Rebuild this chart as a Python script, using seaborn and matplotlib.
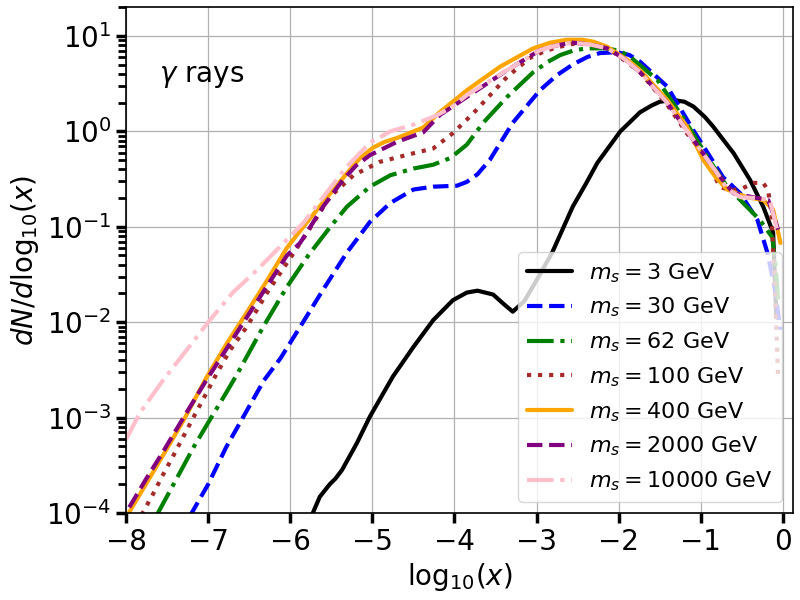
# -*- coding: utf-8 -*-
"""
Gamma-ray spectra dN/dlog10(x) for several scalar masses.
"""

import numpy as np
import pandas as pd
import seaborn as sns
import matplotlib
matplotlib.use("Agg")
import matplotlib.pyplot as plt

# values (x = log10(x), values = log10(dN/dlog10 x))
x_3 = [-5.75, -5.64, -5.52, -5.45, -5.37, -5.19, -5.03, -4.75, -4.50, -4.26, -4.02, -3.85,
       -3.72, -3.53, -3.40, -3.29, -3.15, -3.00, -2.81, -2.56, -2.40, -2.26, -1.98, -1.74,
       -1.60, -1.50, -1.34, -1.20, -1.09, -0.95, -0.85, -0.60, -0.40, -0.24, -0.12, -0.10,
       -0.08]
logy_3 = [-4.05, -3.83, -3.70, -3.64, -3.55, -3.27, -2.99, -2.57, -2.26, -1.98, -1.77, -1.69,
          -1.67, -1.71, -1.81, -1.89, -1.78, -1.56, -1.27, -0.79, -0.55, -0.33, 0.00, 0.20,
          0.27, 0.31, 0.33, 0.31, 0.26, 0.15, 0.05, -0.23, -0.51, -0.79, -1.06, -1.50, -1.95]

x_30 = [-7.22, -7.00, -6.78, -6.57, -6.32, -6.12, -5.88, -5.60, -5.31, -5.03, -4.78, -4.50,
        -4.26, -3.97, -3.85, -3.72, -3.57, -3.29, -2.96, -2.75, -2.56, -2.38, -2.23, -2.02,
        -1.87, -1.74, -1.41, -1.09, -0.73, -0.52, -0.31, -0.19, -0.10, -0.03]
logy_30 = [-4.03, -3.70, -3.31, -2.99, -2.61, -2.38, -2.05, -1.66, -1.27, -0.95, -0.75, -0.61,
           -0.58, -0.57, -0.53, -0.45, -0.30, 0.09, 0.43, 0.59, 0.70, 0.78, 0.82, 0.83,
           0.80, 0.73, 0.47, 0.01, -0.48, -0.65, -0.93, -1.27, -1.65, -2.08]

x_62 = [-7.63, -7.39, -7.17, -6.99, -6.78, -6.65, -6.33, -6.04, -5.78, -5.52, -5.31, -5.03,
        -4.78, -4.50, -4.26, -4.05, -3.85, -3.65, -3.36, -3.04, -2.86, -2.71, -2.54, -2.38,
        -2.14, -1.98, -1.86, -1.53, -1.22, -0.92, -0.68, -0.44, -0.28, -0.13, -0.09, -0.06]
logy_62 = [-4.03, -3.65, -3.30, -3.04, -2.74, -2.55, -2.05, -1.63, -1.30, -1.01, -0.79, -0.58,
           -0.46, -0.39, -0.35, -0.28, -0.14, 0.09, 0.36, 0.62, 0.73, 0.80, 0.85, 0.87,
           0.87, 0.84, 0.78, 0.54, 0.15, -0.27, -0.58, -0.79, -0.93, -1.11, -1.40, -1.77]

x_100 = [-7.81, -7.67, -7.55, -7.43, -7.29, -7.18, -7.05, -6.89, -6.73, -6.53, -6.28, -6.04,
         -5.80, -5.52, -5.23, -4.91, -4.50, -4.26, -4.02, -3.77, -3.36, -3.08, -2.90, -2.75,
         -2.60, -2.47, -2.30, -2.14, -1.74, -1.41, -1.17, -1.01, -0.89, -0.77, -0.64, -0.50,
         -0.35, -0.24, -0.18, -0.14, -0.10, -0.06]
logy_100 = [-4.02, -3.80, -3.60, -3.41, -3.18, -3.00, -2.79, -2.53, -2.29, -2.05, -1.69, -1.38,
            -1.07, -0.69, -0.46, -0.32, -0.23, -0.18, -0.02, 0.19, 0.57, 0.77, 0.84, 0.88,
            0.91, 0.93, 0.92, 0.88, 0.62, 0.28, -0.02, -0.19, -0.37, -0.58, -0.62, -0.60,
            -0.54, -0.54, -0.62, -0.86, -1.60, -2.55]

x_400 = [-7.98, -7.60, -7.30, -7.02, -6.77, -6.53, -6.28, -6.04, -5.84, -5.55, -5.31, -5.15,
         -4.99, -4.85, -4.70, -4.38, -4.18, -3.85, -3.44, -3.04, -2.83, -2.63, -2.45, -2.31,
         -2.15, -2.02, -1.88, -1.74, -1.41, -1.17, -0.97, -0.82, -0.68, -0.44, -0.24, -0.12,
         -0.03]
logy_400 = [-4.02, -3.47, -3.03, -2.58, -2.22, -1.90, -1.56, -1.22, -1.00, -0.69, -0.44, -0.28,
            -0.17, -0.11, -0.07, 0.04, 0.20, 0.43, 0.68, 0.87, 0.93, 0.96, 0.96, 0.94,
            0.89, 0.82, 0.74, 0.64, 0.33, 0.05, -0.30, -0.48, -0.61, -0.69, -0.72, -0.82,
            -1.17]

x_2000 = [-7.96, -7.76, -7.55, -7.30, -7.03, -6.53, -6.04, -5.88, -5.60, -5.36, -5.20, -5.03,
          -4.70, -4.38, -4.18, -3.85, -3.36, -2.96, -2.76, -2.56, -2.35, -2.14, -1.95, -1.74,
          -1.41, -1.09, -0.80, -0.60, -0.37, -0.18, -0.12, -0.06]
logy_2000 = [-3.94, -3.65, -3.36, -3.00, -2.62, -1.95, -1.30, -1.17, -0.79, -0.51, -0.36, -0.25,
             -0.11, -0.01, 0.17, 0.36, 0.64, 0.85, 0.90, 0.93, 0.91, 0.87, 0.77, 0.62,
             0.30, -0.09, -0.44, -0.65, -0.69, -0.72, -0.86, -1.03]

x_10000 = [-8.00, -7.83, -7.55, -7.26, -6.98, -6.70, -6.40, -6.16, -5.84, -5.60, -5.31, -5.03,
           -4.78, -4.50, -4.21, -4.02, -3.85, -3.36, -2.96, -2.76, -2.56, -2.35, -2.14, -1.95,
           -1.74, -1.41, -1.09, -0.80, -0.68, -0.52, -0.31, -0.16, -0.10, -0.06]
logy_10000 = [-3.23, -2.95, -2.61, -2.29, -1.98, -1.69, -1.45, -1.24, -0.96, -0.69, -0.37, -0.12,
              0.00, 0.07, 0.17, 0.26, 0.38, 0.64, 0.85, 0.90, 0.93, 0.91, 0.87, 0.77,
              0.62, 0.30, -0.09, -0.44, -0.60, -0.69, -0.70, -0.72, -0.93, -1.07]

masses = [3, 30, 62, 100, 400, 2000, 10000]
series_x = [x_3, x_30, x_62, x_100, x_400, x_2000, x_10000]
series_logy = [logy_3, logy_30, logy_62, logy_100, logy_400, logy_2000, logy_10000]
colors = ["black", "blue", "green", "brown", "orange", "purple", "pink"]
linestyles = ["-", "--", "-.", ":", "-", "--", "-."]


def plot_spectra(save_path: str = "out.png") -> None:
    sns.set_style("ticks")
    plt.rcParams["font.family"] = ["DejaVu Sans"]
    for key in ["text.color", "axes.labelcolor", "xtick.color", "ytick.color", "axes.edgecolor"]:
        plt.rcParams[key] = "black"
    fig, ax = plt.subplots(figsize=(8, 6), dpi=100)
    fig.subplots_adjust(left=0.1575, right=0.991, bottom=0.145, top=0.988)

    for m, xs, ly, c, ls in zip(masses, series_x, series_logy, colors, linestyles):
        df = pd.DataFrame({"x": xs, "y": np.power(10.0, ly)})
        sns.lineplot(data=df, x="x", y="y", ax=ax, color=c, linestyle=ls, linewidth=3,
                     label=rf"$m_s = {m}$ GeV")

    ax.set_yscale("log")
    ax.set_xlim(-8, 0.12)
    ax.set_ylim(1e-4, 20)
    ax.set_xticks(range(-8, 1))
    ax.grid(True, which="major", color="#b0b0b0", linewidth=0.9)
    ax.tick_params(axis="both", which="major", labelsize=20, length=7, width=2.5)
    ax.tick_params(axis="both", which="minor", length=6, width=2)
    ax.set_xlabel(r"$\mathrm{log}_{10}(x)$", fontsize=20)
    ax.set_ylabel(r"$dN/d\mathrm{log}_{10}(x)$", fontsize=20)
    ax.text(-7.6, 10 ** 0.58, r"$\gamma$ rays", fontsize=20, va="center", ha="left")
    ax.legend(loc="lower right", fontsize=16)
    for sp in ax.spines.values():
        sp.set_linewidth(1.2)

    fig.savefig(save_path, dpi=100)
    plt.close(fig)


if __name__ == "__main__":
    plot_spectra()
